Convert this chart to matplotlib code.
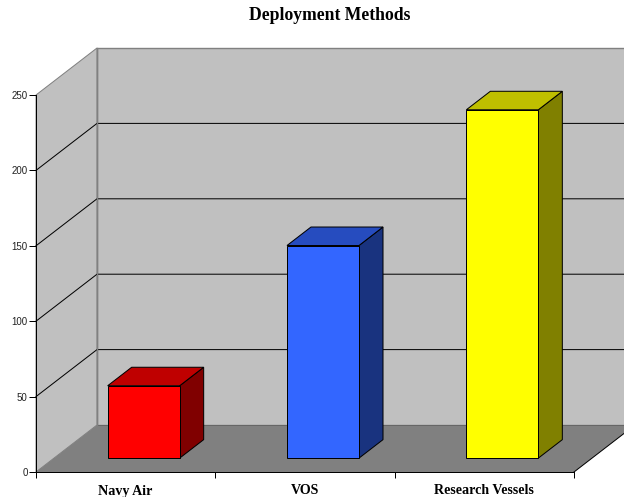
import matplotlib
matplotlib.use("Agg")
import matplotlib.pyplot as plt
from matplotlib.patches import Polygon

title = "Deployment Methods"
categories = ["Navy Air", "VOS", "Research Vessels"]
values = [48, 141, 231]
y_ticks = [0, 50, 100, 150, 200, 250]
front_colors = ["#FF0000", "#3366FF", "#FFFF00"]
top_colors = ["#BF0000", "#264CBF", "#BFBF00"]
side_colors = ["#800000", "#19337F", "#808000"]

W, H = 624, 497
L, R, T, B = 36, 574, 95, 472
fig = plt.figure(figsize=(W / 100, H / 100), dpi=100, facecolor="white")
ax = fig.add_axes([L / W, 1 - B / H, (R - L) / W, (B - T) / H])
ax.set_xlim(0, len(categories))
ax.set_ylim(0, max(y_ticks))
ax.patch.set_visible(False)

px = len(categories) / (R - L)   # data x per pixel
py = max(y_ticks) / (B - T)      # data y per pixel
DX, DY = 61 * px, 47 * py        # full depth of the plot box
n, top = len(categories), max(y_ticks)
LW = 0.72                        # one pixel


def poly(points, fc, ec, lw=LW, z=1):
    ax.add_patch(Polygon(points, closed=True, facecolor=fc, edgecolor=ec, linewidth=lw,
                         zorder=z, clip_on=False, joinstyle="miter"))


# back wall, side wall, floor
poly([(DX, DY), (n + DX, DY), (n + DX, top + DY), (DX, top + DY)], "#C0C0C0", "#808080", 1.0, 1)
poly([(0, 0), (DX, DY), (DX, top + DY), (0, top)], "#C0C0C0", "#808080", LW, 1)
poly([(0, 0), (n, 0), (n + DX, DY), (DX, DY)], "#808080", "none", 0, 2)
ax.plot([DX, n + DX], [DY, DY], color="#666666", lw=LW, zorder=2.5, clip_on=False)
ax.plot([n, n + DX], [0, DY], color="black", lw=LW, zorder=2.5, clip_on=False)

# gridlines
for v in y_ticks[1:-1]:
    ax.plot([0, DX, n + DX], [v, v + DY, v + DY], color="black", lw=LW, zorder=3,
            clip_on=False, solid_joinstyle="miter")
ax.plot([DX, DX], [DY, top + DY], color="#808080", lw=1.0, zorder=3.5, clip_on=False)

# bars
bar_w = 72 * px
d0, d1 = 18 / 61, 42 / 61
for i, v in enumerate(values):
    x0 = i + 0.5 - bar_w / 2
    x1 = x0 + bar_w
    fx, fy = d0 * DX, d0 * DY
    bx, by = d1 * DX, d1 * DY
    z = 5 + i
    poly([(x1 + fx, fy), (x1 + bx, by), (x1 + bx, v + by), (x1 + fx, v + fy)], side_colors[i], "black", LW, z)
    poly([(x0 + fx, v + fy), (x1 + fx, v + fy), (x1 + bx, v + by), (x0 + bx, v + by)], top_colors[i], "black", LW, z)
    poly([(x0 + fx, fy), (x1 + fx, fy), (x1 + fx, v + fy), (x0 + fx, v + fy)], front_colors[i], "black", LW, z)

# axes
for s in ("top", "right"):
    ax.spines[s].set_visible(False)
for s in ("left", "bottom"):
    ax.spines[s].set_color("black")
    ax.spines[s].set_linewidth(LW)
    ax.spines[s].set_zorder(4)
ax.set_yticks(y_ticks)
ax.set_yticklabels([str(t) for t in y_ticks], fontfamily="Liberation Sans", fontsize=7.0, color="#222222")
ax.tick_params(axis="y", length=4.7, width=LW, pad=1.4)
ax.set_xticks(range(n + 1))
ax.set_xticklabels([])
ax.tick_params(axis="x", which="major", length=4.3, width=LW)
ax.set_xticks([i + 0.5 for i in range(n)], minor=True)
ax.set_xticklabels(categories, minor=True, fontfamily="Liberation Serif", fontweight="bold", fontsize=10.1)
ax.tick_params(axis="x", which="minor", length=0, pad=9)

fig.text(329.5 / W, 1 - 15.5 / H, title, ha="center", va="center",
         fontfamily="Liberation Serif", fontweight="bold", fontsize=12.7)
fig.savefig("out.png", dpi=100)
